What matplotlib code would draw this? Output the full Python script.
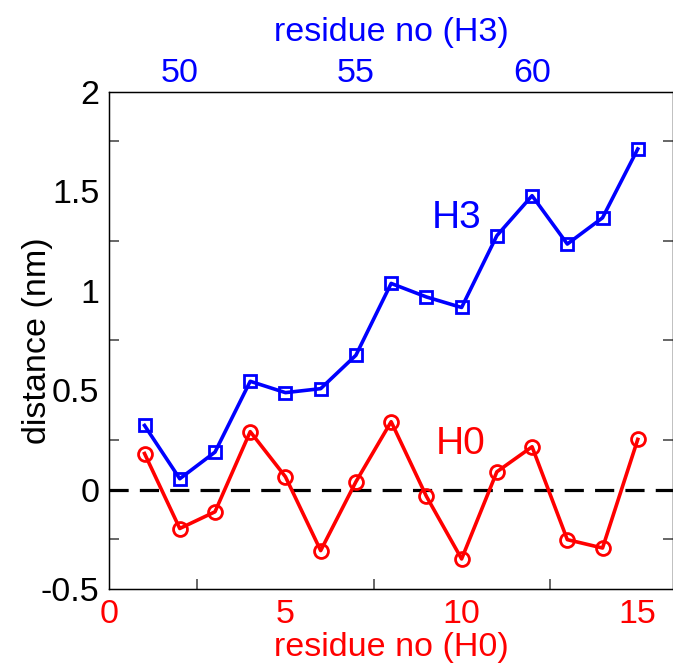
import numpy as np
import matplotlib
matplotlib.use('Agg')
import matplotlib.pyplot as plt

plt.rcParams['font.family'] = ['Liberation Sans', 'DejaVu Sans']

# residue index along H0 and the two distance series (nm)
residue = [1, 2, 3, 4, 5, 6, 7, 8, 9, 10, 11, 12, 13, 14, 15]
dist_h3 = [0.322, 0.054, 0.188, 0.544, 0.487, 0.507, 0.675, 1.036,
           0.968, 0.915, 1.276, 1.477, 1.234, 1.366, 1.712]
dist_h0 = [0.181, -0.196, -0.112, 0.291, 0.064, -0.307, 0.039, 0.341,
           -0.034, -0.349, 0.089, 0.215, -0.252, -0.294, 0.252]

h0_ticks = [0, 5, 10, 15]
h3_ticks = [50, 55, 60]
y_ticks = [-0.5, 0, 0.5, 1, 1.5, 2]
h3_offset = 48  # H3 residue number = H0 index + offset

fs = 24.5

fig = plt.figure(figsize=(6.73, 6.68), dpi=100)
ax = fig.add_axes([0.1624, 0.1183, 0.8376, 0.7445])

ax.axhline(0, color='black', lw=2.3, ls=(0, (6, 3.5)), zorder=1)
ax.plot(residue, dist_h3, '-s', color='blue', lw=2.6, ms=8.5, mew=2,
        mfc='none', zorder=3)
ax.plot(residue, dist_h0, '-o', color='red', lw=2.6, ms=10, mew=2,
        mfc='none', zorder=3)

ax.text(9.86, 1.365, 'H3', color='blue', fontsize=28, ha='center', va='center')
ax.text(9.96, 0.227, 'H0', color='red', fontsize=28, ha='center', va='center')

ax.set_xlim(0, 16)
ax.set_ylim(-0.5, 2)
ax.set_xticks(h0_ticks)
ax.set_xticklabels([str(t) for t in h0_ticks])
ax.set_yticks(y_ticks)
ax.set_yticklabels(['-0.5', '0', '0.5', '1', '1.5', '2'])
ax.tick_params(which='major', length=0, labelsize=fs, pad=7)
ax.tick_params(axis='x', which='major', labelcolor='red')

# tick marks sit half way between the labels
ax.set_xticks([2.5, 7.5, 12.5], minor=True)
ax.set_yticks([-0.25, 0.25, 0.75, 1.25, 1.75], minor=True)
ax.tick_params(which='minor', direction='in', length=7.5, width=1.2,
               color='0.3', top=True, right=True)

ax.set_ylabel('distance (nm)', fontsize=fs)
ax.yaxis.set_label_coords(-0.1, 0.5)
ax.set_xlabel('residue no (H0)', fontsize=fs, color='red', labelpad=2)

for s in ax.spines.values():
    s.set_linewidth(1.0)

ax2 = ax.twiny()
ax2.set_xlim(h3_offset, h3_offset + 16)
ax2.set_xticks(h3_ticks)
ax2.tick_params(length=0, labelsize=fs, labelcolor='blue', pad=2)
ax2.set_xlabel('residue no (H3)', fontsize=fs, color='blue', labelpad=12)

fig.savefig('out.png', dpi=100)
